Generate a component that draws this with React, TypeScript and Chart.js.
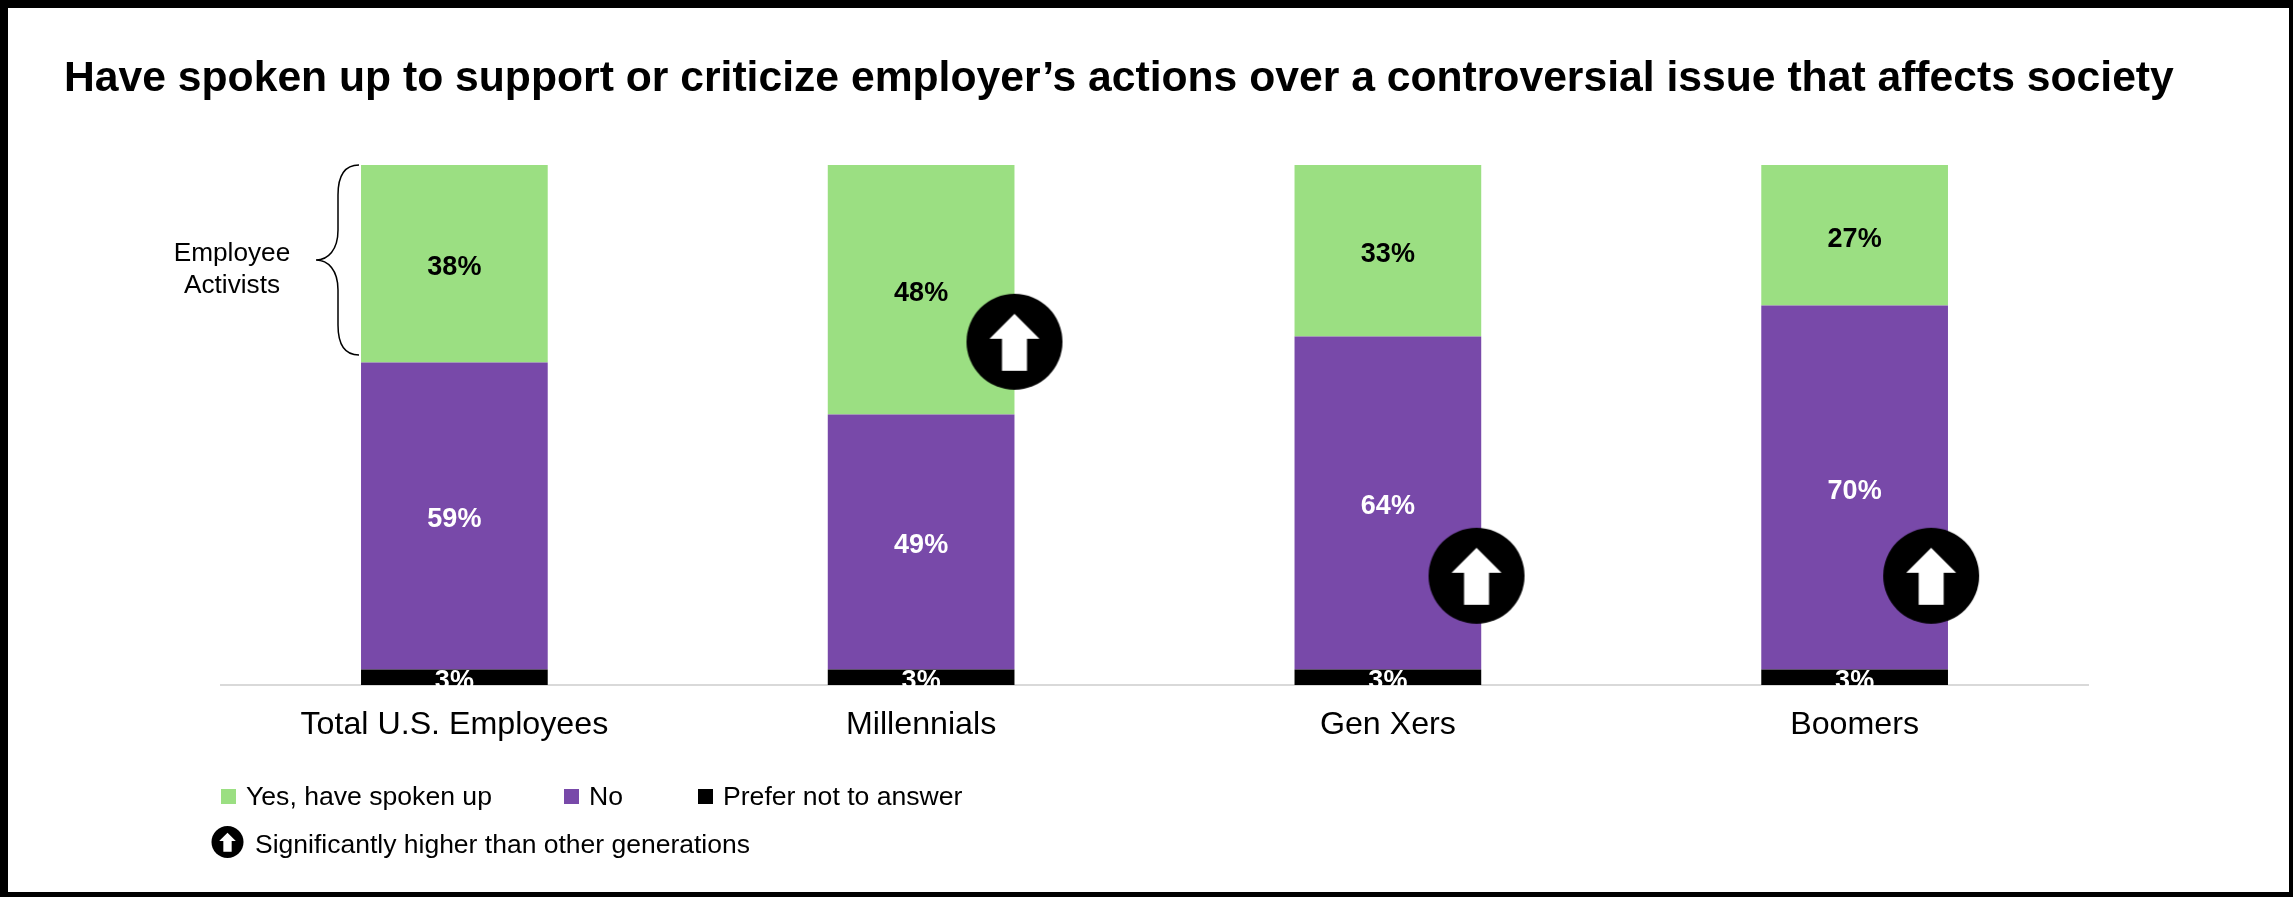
import React, { useEffect, useRef } from "react";
import { Chart, registerables } from "chart.js";

Chart.register(...registerables);

const categories = ["Total U.S. Employees", "Millennials", "Gen Xers", "Boomers"];
const preferNot = [3, 3, 3, 3];
const noValues = [59, 49, 64, 70];
const yesValues = [38, 48, 33, 27];

// Where the "significantly higher" badges sit, in category and percent units.
const badgeX = [1.2, 2.19, 3.164];
const badgeY = [66, 21, 21];

const titleText = "Have spoken up to support or criticize employer\u2019s actions over a controversial issue that affects society";
const bracketLines = ["Employee", "Activists"];
const badgeNote = "Significantly higher than other generations";

const GREEN = "#9BDF82";
const PURPLE = "#7849A9";
const BLACK = "#000000";
const FONT = '"Liberation Sans", Arial, sans-serif';

// Black disc with a white up arrow, scaled from its diameter.
function drawBadge(ctx: CanvasRenderingContext2D, cx: number, cy: number, d: number) {
  const u = d / 96;
  ctx.save();
  ctx.fillStyle = "#000";
  ctx.beginPath();
  ctx.arc(cx, cy, d / 2, 0, Math.PI * 2);
  ctx.fill();
  ctx.fillStyle = "#fff";
  ctx.beginPath();
  ctx.moveTo(cx, cy - 28 * u);
  ctx.lineTo(cx + 25 * u, cy - 3 * u);
  ctx.lineTo(cx + 12.5 * u, cy - 3 * u);
  ctx.lineTo(cx + 12.5 * u, cy + 29 * u);
  ctx.lineTo(cx - 12.5 * u, cy + 29 * u);
  ctx.lineTo(cx - 12.5 * u, cy - 3 * u);
  ctx.lineTo(cx - 25 * u, cy - 3 * u);
  ctx.closePath();
  ctx.fill();
  ctx.restore();
}

function badgeSprite() {
  const c = document.createElement("canvas");
  c.width = 98;
  c.height = 98;
  drawBadge(c.getContext("2d") as CanvasRenderingContext2D, 49, 49, 96);
  return c;
}

const segmentLabels = {
  id: "segmentLabels",
  afterDatasetsDraw(chart: any) {
    const ctx = chart.ctx;
    ctx.save();
    ctx.font = `bold 27px ${FONT}`;
    ctx.textAlign = "center";
    ctx.textBaseline = "middle";
    [0, 1, 2].forEach((di) => {
      const ds = chart.data.datasets[di];
      chart.getDatasetMeta(di).data.forEach((bar: any, i: number) => {
        const p = bar.getProps(["x", "y", "base"], true);
        ctx.fillStyle = ds.backgroundColor === GREEN ? "#000" : "#fff";
        ctx.fillText(`${ds.data[i]}%`, p.x, (p.y + p.base) / 2 + 4);
      });
    });
    ctx.restore();
  },
};

// Frame, title, bracket annotation and legend rows.
const annotations = {
  id: "annotations",
  afterDraw(chart: any) {
    const ctx = chart.ctx;
    const { width, height } = chart;
    ctx.save();

    ctx.fillStyle = "#000";
    ctx.fillRect(0, 0, width, 8);
    ctx.fillRect(0, height - 5, width, 5);
    ctx.fillRect(0, 0, 8, height);
    ctx.fillRect(width - 4, 0, 4, height);

    ctx.textBaseline = "middle";
    ctx.textAlign = "left";
    ctx.font = `bold 42.67px ${FONT}`;
    ctx.fillText(titleText, 64, 79);

    const y = chart.scales.y;
    const top = y.getPixelForValue(100);
    const bottom = top + 190;
    const mid = (top + bottom) / 2;
    ctx.strokeStyle = "#000";
    ctx.lineWidth = 1.5;
    ctx.beginPath();
    ctx.moveTo(359, top);
    ctx.bezierCurveTo(345, top, 338, top + 10, 338, top + 30);
    ctx.lineTo(338, mid - 30);
    ctx.bezierCurveTo(338, mid - 10, 328, mid, 316, mid);
    ctx.bezierCurveTo(328, mid, 338, mid + 10, 338, mid + 30);
    ctx.lineTo(338, bottom - 30);
    ctx.bezierCurveTo(338, bottom - 10, 345, bottom, 359, bottom);
    ctx.stroke();

    ctx.textAlign = "center";
    ctx.font = `26.2px ${FONT}`;
    ctx.fillText(bracketLines[0], 232, 254);
    ctx.fillText(bracketLines[1], 232, 286);

    ctx.textAlign = "left";
    ctx.font = `26.6px ${FONT}`;
    const swatchX = [221, 564, 698];
    [0, 1, 2].forEach((slot) => {
      const ds = chart.data.datasets[2 - slot];
      ctx.fillStyle = ds.backgroundColor;
      ctx.fillRect(swatchX[slot], 789, 15, 15);
      ctx.fillStyle = "#000";
      ctx.fillText(ds.label, swatchX[slot] + 25, 798);
    });
    drawBadge(ctx, 227.5, 842, 32);
    ctx.fillStyle = "#000";
    ctx.font = `26.5px ${FONT}`;
    ctx.fillText(badgeNote, 255, 846);

    ctx.restore();
  },
};

export default function App() {
  const ref = useRef<HTMLCanvasElement>(null);

  useEffect(() => {
    const chart = new Chart(ref.current as HTMLCanvasElement, {
      type: "bar",
      data: {
        labels: categories,
        datasets: [
          { label: "Prefer not to answer", data: preferNot, backgroundColor: BLACK, order: 2 },
          { label: "No", data: noValues, backgroundColor: PURPLE, order: 2 },
          { label: "Yes, have spoken up", data: yesValues, backgroundColor: GREEN, order: 2 },
          {
            type: "scatter",
            label: "Significant",
            data: badgeX.map((x, i) => ({ x, y: badgeY[i] })),
            xAxisID: "xBadge",
            yAxisID: "yBadge",
            pointStyle: badgeSprite(),
            order: 1,
            clip: false,
          } as any,
        ],
      },
      options: {
        responsive: false,
        animation: false,
        layout: { padding: { left: 221, right: 205, top: 165, bottom: 152 } },
        datasets: { bar: { categoryPercentage: 1, barPercentage: 0.4, grouped: false } },
        plugins: { legend: { display: false }, title: { display: false }, tooltip: { enabled: false } },
        scales: {
          x: {
            stacked: true,
            grid: { display: false, drawTicks: false },
            border: { color: "#D9D9D9", width: 2 },
            afterFit: (s: any) => { s.height = 60; },
            ticks: { color: "#000", font: { family: FONT, size: 32.2 }, padding: 21, maxRotation: 0, autoSkip: false },
          },
          y: { stacked: true, display: false, min: 0, max: 100 },
          xBadge: { type: "linear", display: false, min: -0.5, max: 3.5, offset: false },
          yBadge: { display: false, min: 0, max: 100 },
        },
      } as any,
      plugins: [segmentLabels, annotations],
    });
    return () => chart.destroy();
  }, []);

  return (
    <div style={{ position: "absolute", left: 0, top: 0, background: "#fff" }}>
      <canvas ref={ref} width={2293} height={897} style={{ display: "block" }} />
    </div>
  );
}
